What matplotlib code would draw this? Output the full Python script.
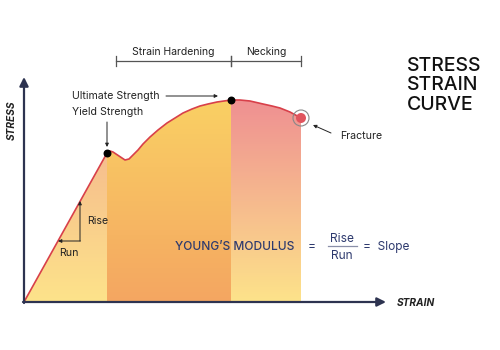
import matplotlib.pyplot as plt
import numpy as np
from matplotlib.colors import LinearSegmentedColormap
from matplotlib.patches import Polygon, Circle

plt.rcParams['font.family'] = ['Inter', 'DejaVu Sans']

# curve readings (strain, stress) in chart units
elastic_strain = [0, 83]
elastic_stress = [0, 149]
yield_strain = [83, 86, 89, 95, 101, 105, 109, 114, 119, 126, 134, 143, 151, 159, 168, 176, 184, 193, 200, 207]
yield_stress = [149, 151, 150, 146, 142, 143, 147, 152, 158, 165, 172, 179, 184, 189, 193, 196, 198, 200, 201, 202]
neck_strain = [207, 216, 226, 239, 248, 256, 266, 277]
neck_stress = [202, 202, 201, 198, 196, 194, 190, 184]

yield_pt = (83, 149)
ultimate_pt = (207, 202)
fracture_pt = (277, 184)

navy = '#2d3350'
text_navy = '#2e3a6e'
red = '#d8404a'

fig = plt.figure(figsize=(5, 3.5), dpi=100)
ax = fig.add_axes([0, 0, 1, 1])
ax.axis('off')

strain = np.array(elastic_strain + yield_strain[1:] + neck_strain[1:])
stress = np.array(elastic_stress + yield_stress[1:] + neck_stress[1:])


def shade(x0, x1, top_col, bot_col):
    mask = (strain >= x0) & (strain <= x1)
    xs = strain[mask]
    ys = stress[mask]
    verts = [(x0, 0)] + list(zip(xs, ys)) + [(x1, 0)]
    poly = Polygon(verts, closed=True, facecolor='none', edgecolor='none')
    ax.add_patch(poly)
    cmap = LinearSegmentedColormap.from_list('g', [bot_col, top_col])
    grad = np.linspace(0, 1, 256).reshape(-1, 1)
    im = ax.imshow(grad, cmap=cmap, extent=[x0, x1, 0, 202], origin='lower',
                   aspect='auto', zorder=1)
    im.set_clip_path(poly)


shade(0, 83, '#f4b08f', '#fde38a')
shade(83, 207, '#fad064', '#f4a661')
shade(207, 277, '#ef9092', '#fde38a')
ax.set_xlim(-24, 476)
ax.set_ylim(-48, 302)

ax.plot(strain, stress, color=red, lw=1.2, zorder=3)

# axes arrows
arr = dict(arrowstyle='-|>', color=navy, lw=1.6, mutation_scale=13, shrinkA=0, shrinkB=0)
ax.annotate('', xy=(0, 225), xytext=(0, -1), arrowprops=arr, zorder=4)
ax.annotate('', xy=(362, 0), xytext=(-1, 0), arrowprops=arr, zorder=4)
ax.text(-12, 182, 'STRESS', rotation=90, ha='center', va='center', fontsize=7.3,
        fontweight='bold', style='italic', color='#222222')
ax.text(373, -1, 'STRAIN', ha='left', va='center', fontsize=7.3,
        fontweight='bold', style='italic', color='#222222')

# key points
ax.scatter([yield_pt[0], ultimate_pt[0]], [yield_pt[1], ultimate_pt[1]], s=22,
           color='black', zorder=5)
ax.add_patch(Circle(fracture_pt, 8, facecolor='none', edgecolor='#888888', lw=0.8, zorder=5))
ax.add_patch(Circle(fracture_pt, 5, facecolor='#e0555e', edgecolor='none', zorder=5))

# region brackets
br = '#555555'
for x0, x1, label in [(92, 207, 'Strain Hardening'), (207, 277, 'Necking')]:
    ax.plot([x0, x1], [241, 241], color=br, lw=0.9)
    ax.plot([x0, x0], [236, 246], color=br, lw=0.9)
    ax.plot([x1, x1], [236, 246], color=br, lw=0.9)
    ax.text((x0 + x1) / 2, 250, label, ha='center', va='center', fontsize=7.5, color='#222222')

fs = 7.6
small = dict(arrowstyle='-|>', color='#222222', lw=0.7, mutation_scale=5, shrinkA=0, shrinkB=0)
ax.text(48, 206, 'Ultimate Strength', ha='left', va='center', fontsize=fs, color='#222222')
ax.annotate('', xy=(194, 206), xytext=(142, 206), arrowprops=small)
ax.text(48, 190, 'Yield Strength', ha='left', va='center', fontsize=fs, color='#222222')
ax.annotate('', xy=(83, 155), xytext=(83, 180), arrowprops=small)
ax.text(316, 166, 'Fracture', ha='left', va='center', fontsize=fs, color='#222222')
ax.annotate('', xy=(289, 177), xytext=(307, 169), arrowprops=small)

# rise / run triangle
ax.annotate('', xy=(56, 101), xytext=(56, 61), arrowprops=small, zorder=4)
ax.annotate('', xy=(34, 61), xytext=(56.4, 61), arrowprops=small, zorder=4)
ax.text(63, 81, 'Rise', ha='left', va='center', fontsize=fs, color='#222222')
ax.text(35, 49, 'Run', ha='left', va='center', fontsize=fs, color='#222222')

# young's modulus formula
ax.text(151, 55, "YOUNG’S MODULUS", ha='left', va='center', fontsize=8.6,
        fontweight='medium', color=text_navy, zorder=4)
ax.text(288, 55, '=', ha='center', va='center', fontsize=8.6, color=text_navy)
ax.text(318, 63, 'Rise', ha='center', va='center', fontsize=8.6, color=text_navy)
ax.plot([304, 333], [56, 56], color='#8a8fa8', lw=0.9)
ax.text(318, 46, 'Run', ha='center', va='center', fontsize=8.6, color=text_navy)
ax.text(339, 55, '=  Slope', ha='left', va='center', fontsize=8.6, color=text_navy)

# title
for i, word in enumerate(['STRESS', 'STRAIN', 'CURVE']):
    ax.text(383, 236 - i * 19.5, word, ha='left', va='center', fontsize=14,
            fontweight='medium', color='#111111')

fig.savefig('out.png', dpi=100)
